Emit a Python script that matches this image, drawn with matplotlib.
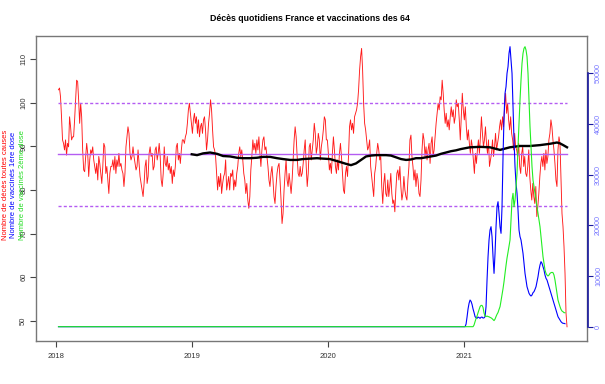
import numpy as np
import matplotlib
matplotlib.use("Agg")
import matplotlib.pyplot as plt

plt.rcParams["font.family"] = ["Liberation Sans", "DejaVu Sans"]

# daily deaths (scaled), about one value every 2.7 days
deces = [
    103.0, 103.4, 101.4, 96.8, 91.5, 90.7, 89.2, 91.5, 88.0, 90.7, 89.9, 96.8, 94.5, 91.5, 92.2, 92.2,
    96.1, 100.7, 105.2, 104.9, 100.7, 95.3, 99.9, 96.8, 89.2, 84.6, 84.2, 87.7, 90.7, 88.4, 83.1, 86.9,
    89.2, 88.4, 89.9, 86.9, 85.4, 83.8, 86.1, 82.3, 87.7, 86.1, 83.8, 81.5, 85.4, 90.7, 89.9, 83.8,
    85.4, 82.3, 79.2, 83.8, 85.4, 85.4, 86.9, 84.6, 87.7, 83.8, 86.9, 85.4, 88.4, 85.4, 86.1, 84.6,
    83.8, 80.8, 83.8, 89.9, 92.2, 94.5, 93.0, 88.4, 86.9, 87.7, 89.9, 87.7, 86.1, 84.6, 85.4, 89.2,
    86.1, 83.1, 81.5, 80.0, 78.5, 81.5, 85.4, 86.9, 81.5, 83.1, 88.4, 89.9, 87.7, 88.4, 84.6, 85.4,
    89.2, 89.9, 86.9, 88.4, 90.7, 87.7, 82.3, 80.8, 83.8, 89.9, 86.1, 85.4, 87.7, 84.6, 86.1, 83.8,
    85.4, 81.5, 84.6, 83.1, 85.4, 89.9, 90.7, 86.9, 88.4, 86.1, 89.2, 91.5, 91.5, 90.7, 92.2, 93.0,
    95.3, 98.4, 99.9,
    # 2019
    97.6, 95.3, 93.0, 96.1, 97.6, 95.3, 96.8, 93.0, 96.1, 92.2, 94.5, 95.3, 93.0, 96.1, 96.8, 93.8,
    89.2, 91.5, 95.3, 97.6, 100.7, 98.4, 93.8, 89.9, 89.2, 87.7, 83.8, 80.0, 83.1, 80.8, 83.8, 79.2,
    81.5, 83.1, 83.8, 86.9, 80.0, 81.5, 83.1, 80.0, 83.8, 83.1, 84.6, 80.0, 82.3, 80.8, 83.8, 85.4,
    88.4, 89.9, 87.7, 89.2, 86.9, 83.8, 82.3, 79.2, 81.5, 77.7, 75.8, 78.5, 84.6, 87.7, 91.5, 89.2,
    90.7, 88.4, 91.5, 89.2, 92.2, 88.4, 85.4, 89.2, 91.5, 92.2, 89.2, 89.9, 87.7, 85.4, 82.3, 80.8,
    83.8, 85.4, 82.3, 78.5, 76.9, 80.8, 83.8, 85.4, 86.1, 82.3, 77.7, 72.3, 74.6, 80.0, 83.8, 86.9,
    82.3, 80.8, 83.8, 81.5, 79.2, 82.3, 86.9, 91.5, 94.5, 92.2, 87.7, 83.8, 83.1, 85.4, 83.1, 83.8,
    86.1, 89.2, 91.5, 85.4, 80.8, 83.8, 89.9, 90.7, 86.9, 89.2, 91.5, 95.3, 93.0, 88.4, 89.9, 93.0,
    91.5, 86.9, 89.9, 91.5, 93.8, 96.8, 96.1, 91.5,
    # 2020
    91.5, 88.4, 84.6, 86.1, 83.8, 88.4, 92.2, 89.2, 85.4, 83.8, 86.9, 84.6, 88.4, 90.7, 87.7, 83.8,
    80.0, 79.2, 83.8, 85.4, 83.1, 87.7, 94.5, 96.1, 93.8, 95.3, 93.0, 96.8, 97.6, 98.4, 99.9, 103.0,
    107.5, 110.6, 112.5, 107.5, 99.9, 95.3, 93.8, 91.5, 89.2, 89.9, 91.5, 85.4, 83.1, 80.8, 78.5, 83.8,
    85.4, 88.4, 90.7, 89.2, 86.9, 87.7, 80.8, 76.9, 81.5, 83.8, 79.2, 78.5, 82.3, 78.5, 80.8, 83.8,
    79.2, 76.9, 77.7, 75.0, 80.0, 83.8, 84.6, 82.3, 85.4, 80.8, 77.7, 79.2, 83.1, 80.0, 78.5, 77.7,
    82.3, 85.4, 91.5, 92.6, 87.7, 85.4, 82.3, 84.6, 80.8, 83.8, 82.3, 79.2, 78.5, 82.3, 89.2, 93.0,
    91.5, 87.7, 89.9, 86.9, 89.2, 90.7, 86.1, 90.7, 92.2, 87.7, 89.2, 92.2, 95.3, 97.6, 99.9, 98.4,
    101.4, 100.7, 105.2, 102.2, 98.4, 95.3, 97.6, 94.5, 96.1, 93.8, 96.8, 99.1, 96.8, 98.4, 95.3, 96.8,
    100.7, 99.1, 99.9, 96.1, 91.5, 96.8, 102.2, 98.4,
    # 2021
    96.1, 99.1, 94.5, 91.5, 93.8, 90.7, 88.4, 91.5, 89.9, 86.9, 83.8, 88.4, 86.1, 89.2, 91.5, 88.4,
    92.2, 96.8, 93.0, 89.9, 91.5, 94.5, 90.7, 88.4, 91.5, 85.4, 86.9, 88.4, 91.5, 87.7, 89.9, 93.0,
    89.2, 90.7, 92.2, 94.5, 96.1, 93.8, 96.8, 94.5, 99.1, 102.2, 97.6, 99.9, 96.1, 93.8, 96.8, 93.0,
    91.5, 89.2, 93.0, 89.9, 89.2, 87.7, 90.7, 85.4, 83.8, 88.4, 89.9, 85.4, 87.7, 83.8, 83.1, 85.4,
    89.2, 83.1, 80.0, 77.7, 81.5, 78.5, 76.9, 80.8, 73.9, 76.2, 79.2, 83.1, 86.1, 87.7, 85.4, 88.4,
    84.6, 89.2, 86.1, 87.7, 91.5, 93.0, 96.1, 94.5, 91.5, 89.2, 86.1, 82.3, 80.8, 89.2, 92.2, 90.7,
    82.3, 74.6, 71.6, 67.0, 60.9, 51.7, 48.6,
]
debut_deces = 2018.02
fin_deces = 2021.76

# moving average (black curve)
mm_annees = [
    2019.000, 2019.039, 2019.083, 2019.135, 2019.186, 2019.230, 2019.282, 2019.333, 2019.377,
    2019.429, 2019.480, 2019.524, 2019.576, 2019.627, 2019.671, 2019.723, 2019.774, 2019.818,
    2019.870, 2019.921, 2019.965, 2020.017, 2020.039, 2020.083, 2020.135, 2020.171, 2020.208,
    2020.245, 2020.282, 2020.318, 2020.355, 2020.392, 2020.429, 2020.465, 2020.502, 2020.539,
    2020.576, 2020.612, 2020.649, 2020.686, 2020.723, 2020.759, 2020.796, 2020.833, 2020.870,
    2020.906, 2020.943, 2020.980, 2021.046, 2021.120, 2021.193, 2021.267, 2021.340, 2021.414,
    2021.487, 2021.561, 2021.634, 2021.686, 2021.708, 2021.732, 2021.760,
]
mm_valeurs = [
    88.2, 88.0, 88.4, 88.6, 88.3, 87.8, 87.7, 87.4, 87.3,
    87.3, 87.4, 87.6, 87.6, 87.3, 87.1, 86.9, 86.9, 87.1,
    87.2, 87.3, 87.2, 87.1, 86.9, 86.5, 86.0, 85.7, 86.1,
    86.9, 87.7, 87.9, 88.0, 88.0, 88.0, 87.9, 87.5, 87.1,
    86.9, 87.0, 87.3, 87.3, 87.5, 87.7, 87.9, 88.3, 88.6,
    88.9, 89.1, 89.4, 89.8, 89.9, 89.8, 89.2, 89.8, 90.1,
    90.1, 90.3, 90.6, 90.9, 90.7, 90.3, 89.8,
]

moyenne = 88.2
seuil_haut = 99.9
seuil_bas = 76.4

# vaccinations (right axis), 2021
debut_vacc = 2021.010
fin_vacc = 2021.745
dose1 = [
    0, 500, 1900, 3500, 4600, 5260, 5000, 4400, 3500, 2800, 2000, 1750, 1650, 1900, 1800, 1650,
    1850, 1900, 1700, 1750, 1970, 3950, 9200, 13800, 17100, 19070, 19730, 17760, 13810, 10520,
    14470, 19730, 23680, 24660, 22360, 19730, 18420, 23680, 33540, 41440, 46040, 47350, 49990,
    51300, 53930, 55250, 52620, 49990, 43410, 36830, 31570, 28280, 26310, 23020, 19070, 17760,
    17100, 15790, 14470, 12500, 10520, 9210, 7890, 7240, 6580, 6250, 6050, 6250, 6710, 6910,
    7370, 7890, 8880, 9870, 11180, 12170, 12830, 12500, 11840, 11180, 10190, 9540, 9210, 8550,
    7890, 7240, 6580, 5920, 5260, 4600, 3950, 3290, 2630, 1970, 1640, 1320, 990, 790, 660, 660, 590,
]
dose2 = [
    0, 0, 0, 0, 0, 0, 0, 0, 0, 330, 990, 1600, 2100, 2750, 3350, 3950, 4200, 4200, 3800, 2700,
    2100, 2000, 2100, 2000, 1950, 1840, 1750, 1600, 1400, 1200, 1500, 2000, 2450, 2800, 3400,
    3950, 5100, 6300, 7500, 8900, 10520, 12100, 13550, 14700, 15900, 17100, 21050, 24990, 26310,
    23680, 24990, 27620, 30250, 35520, 40120, 44720, 48670, 51960, 53930, 54920, 55250, 54590,
    53270, 49990, 44720, 39460, 35520, 31570, 28940, 27620, 26310, 24990, 23680, 22360, 21050,
    19730, 17760, 15790, 13810, 12500, 11180, 10520, 10190, 10000, 10190, 10520, 10660, 10720,
    10660, 10190, 9210, 7890, 6580, 5260, 4600, 3950, 3420, 3090, 2960, 2760, 2760,
]

annees_ticks = [2018, 2019, 2020, 2021]
ticks_gauche = [50, 60, 70, 80, 90, 100, 110]
ticks_droite = [0, 10000, 20000, 30000, 40000, 50000]

x_deces = np.linspace(debut_deces, fin_deces, len(deces))
x_vacc = np.concatenate([[debut_deces], np.linspace(debut_vacc, fin_vacc, len(dose1))])
y_dose1 = np.concatenate([[0], dose1])
y_dose2 = np.concatenate([[0], dose2])

fig = plt.figure(figsize=(6.05, 3.84), dpi=100)
ax = fig.add_axes([0.0587, 0.112, 0.9109, 0.7943])

ax.plot(x_deces, deces, color="#ff1a1a", lw=0.65)
violet = "#b45cf2"
ax.plot([debut_deces, fin_deces], [moyenne, moyenne], color=violet, lw=1)
for s in (seuil_haut, seuil_bas):
    ax.plot([debut_deces, fin_deces], [s, s], color=violet, lw=1, dashes=(2.2, 1.6))
ax.plot(mm_annees, mm_valeurs, color="black", lw=1.7)

ax.set_xlim(2017.851, 2021.904)
ax.set_ylim(45.34, 115.35)
ax.set_xticks(annees_ticks)
ax.set_yticks(ticks_gauche)
ax.set_yticklabels([str(t) for t in ticks_gauche], rotation=90, va="center")
ax.tick_params(axis="both", labelsize=5.5, length=4, width=0.8, color="#444444",
               labelcolor="#333333")
ax.tick_params(axis="x", pad=5)
ax.tick_params(axis="y", pad=2)
for sp in ax.spines.values():
    sp.set_color("#777777")
    sp.set_linewidth(1)

ax2 = ax.twinx()
for name in ("top", "bottom", "left"):
    ax2.spines[name].set_visible(False)
# set the spine position first: it resets the ticks
ax2.spines["right"].set_position(("outward", 1))
ax2.spines["right"].set_bounds(0, 50000)
ax2.spines["right"].set_color("#1a1aa0")
ax2.spines["right"].set_linewidth(1.2)

ax2.plot(x_vacc, y_dose1, color="blue", lw=0.8)
ax2.plot(x_vacc, y_dose2, color="#22ee22", lw=0.8)
ax2.set_ylim(-2822, 57360)
ax2.set_yticks(ticks_droite)
ax2.tick_params(axis="y", labelsize=5.2, length=3.5, width=0.8, color="#1a1aa0",
                labelcolor="#7777ff", pad=1.5, labelrotation=90)
ax2.set_yticklabels([str(t) for t in ticks_droite], rotation=90, va="center")

fig.text(0.513, 0.952, "Décès quotidiens France et vaccinations des 64",
         ha="center", va="center", fontsize=6.3, fontweight="bold")

ylab_y = 1 - 185 / 384
fig.text(6 / 605, ylab_y, "Nombre de décès toutes causes", color="red",
         rotation=90, ha="center", va="center", fontsize=5.5)
fig.text(14 / 605, ylab_y, "Nombre de vaccinés 1ère dose", color="blue",
         rotation=90, ha="center", va="center", fontsize=5.5)
fig.text(22.5 / 605, ylab_y, "Nombre de vaccinés 2ème dose", color="#22dd22",
         rotation=90, ha="center", va="center", fontsize=5.5)

fig.savefig("out.png", dpi=100)
